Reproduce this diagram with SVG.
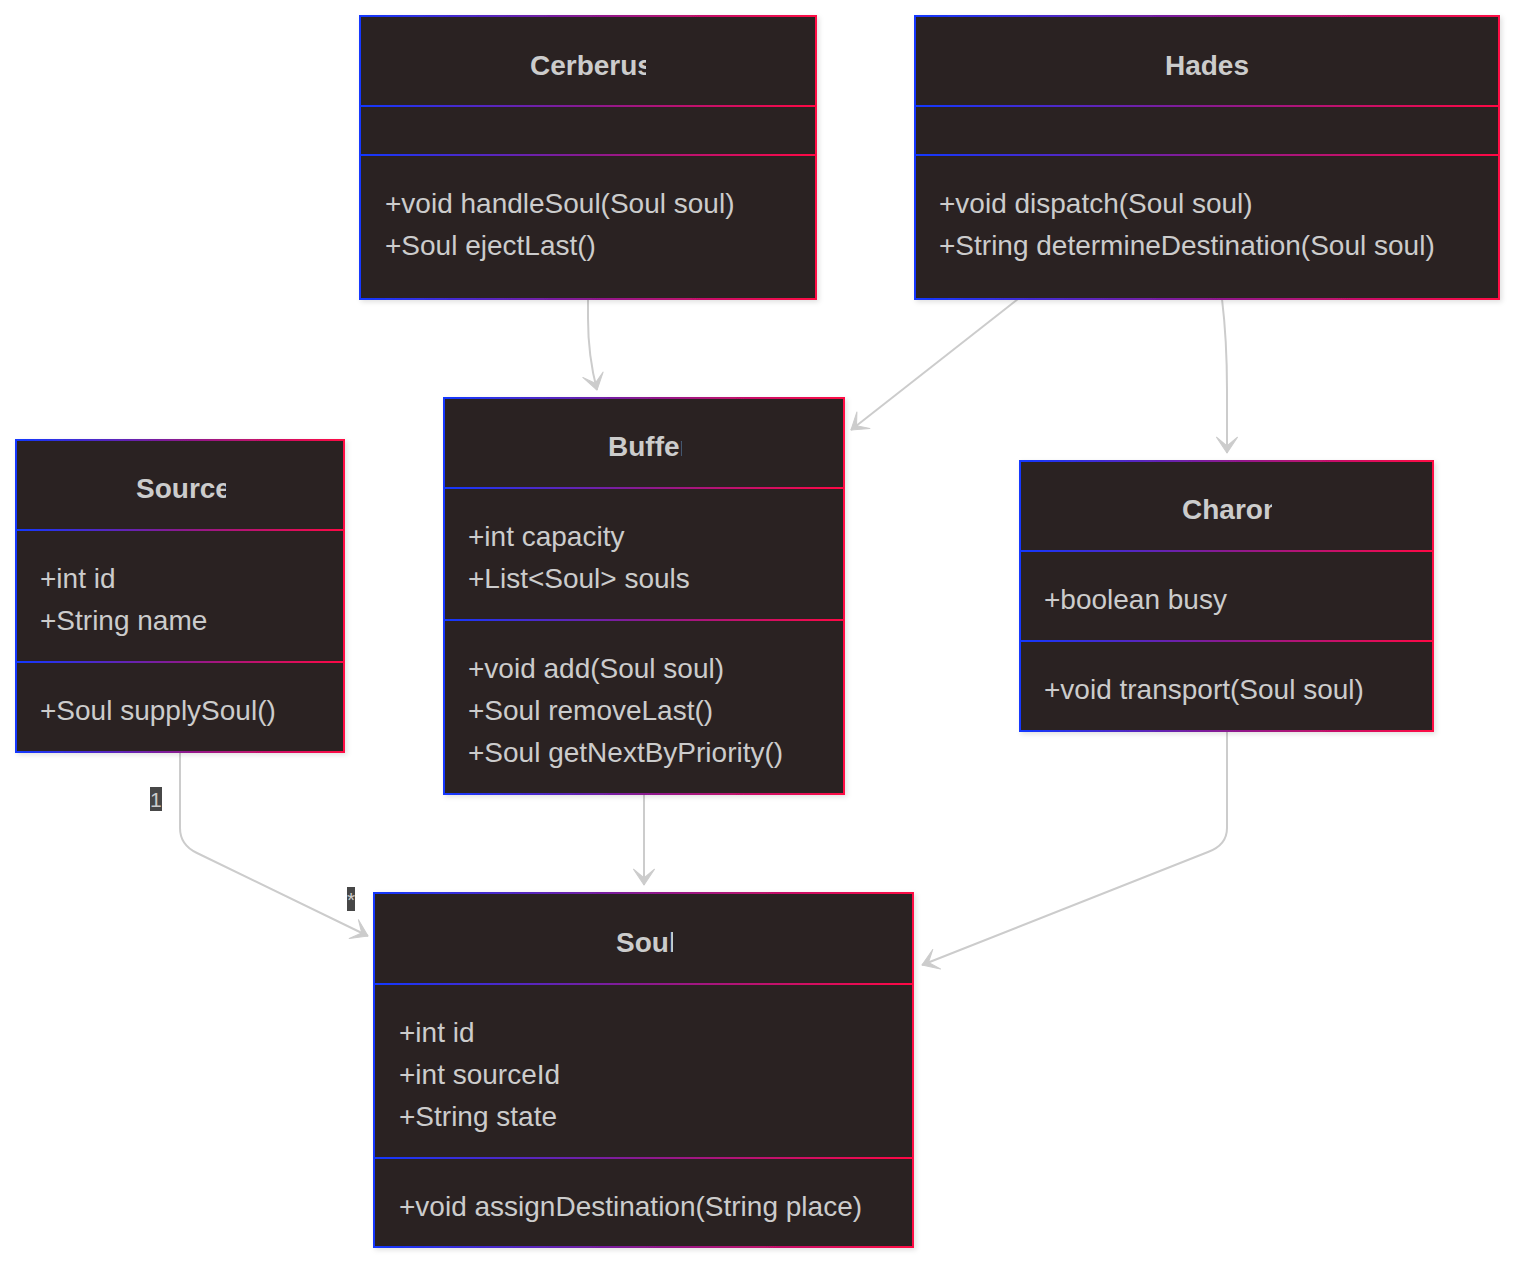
<svg xmlns="http://www.w3.org/2000/svg" width="1515" height="1264" viewBox="0 0 1515 1264">
<defs>
<linearGradient id="g" x1="0" y1="0" x2="1" y2="0">
<stop offset="0" stop-color="#1238ff"/>
<stop offset="0.5" stop-color="#8a1a90"/>
<stop offset="1" stop-color="#ff0844"/>
</linearGradient>
<filter id="sh" x="-5%" y="-5%" width="115%" height="115%">
<feDropShadow dx="2" dy="2" stdDeviation="2.5" flood-color="#000" flood-opacity="0.12"/>
</filter>
<marker id="arr" viewBox="0 0 20 14" refX="18" refY="7" markerUnits="userSpaceOnUse" markerWidth="35" markerHeight="24.5" orient="auto">
<path d="M18,7 L9,13 L14,7 L9,1 Z" fill="#cccccc" stroke="#cccccc" stroke-width="0.6" stroke-linejoin="round"/>
</marker>
<clipPath id="cCer"><rect x="530" y="30" width="116" height="60"/></clipPath>
<clipPath id="cBuf"><rect x="608" y="412" width="73.5" height="60"/></clipPath>
<clipPath id="cSrc"><rect x="136" y="454" width="90" height="60"/></clipPath>
<clipPath id="cCha"><rect x="1182" y="475" width="90" height="60"/></clipPath>
<clipPath id="cSoul"><rect x="616" y="908" width="57" height="60"/></clipPath>
</defs>
<style>
.box{fill:#2b2121;stroke:url(#g);stroke-width:2}
.div{fill:url(#g)}
.t{font-family:"Liberation Sans",Arial,sans-serif;font-size:28px;font-weight:bold;fill:#cccccc}
.m{font-family:"Liberation Sans",Arial,sans-serif;font-size:28px;fill:#cccccc}
.e{fill:none;stroke:#cccccc;stroke-width:2}
.lb{fill:#474747}
.lt{font-family:"Liberation Sans",Arial,sans-serif;font-size:21px;fill:#cccccc}
</style>
<rect width="1515" height="1264" fill="#ffffff"/>

<g id="edges">
<path class="e" d="M588,299 L588,318 Q588,356 597,390" marker-end="url(#arr)"/>
<path class="e" d="M1018,299 L851,430" marker-end="url(#arr)"/>
<path class="e" d="M1222,299 Q1227,340 1227,390 L1227,453" marker-end="url(#arr)"/>
<path class="e" d="M644,794 L644,885" marker-end="url(#arr)"/>
<path class="e" d="M180,752 L180,828 Q180,845 197,853 L368,936" marker-end="url(#arr)"/>
<path class="e" d="M1227,731 L1227,828 Q1227,845 1208,852 L922,965" marker-end="url(#arr)"/>
<rect class="lb" x="150" y="787" width="12" height="24"/>
<text class="lt" x="150" y="807">1</text>
<rect class="lb" x="347" y="887" width="8" height="24"/>
<text class="lt" x="347" y="907">*</text>
</g>

<g id="Cerberus">
<rect class="box" x="360" y="16" width="456" height="283" filter="url(#sh)"/>
<rect class="div" x="360" y="105" width="456" height="2"/>
<rect class="div" x="360" y="154" width="456" height="2"/>
<text class="t" x="530" y="75" clip-path="url(#cCer)">Cerberus</text>
<text class="m" x="385" y="213">+void handleSoul(Soul soul)</text>
<text class="m" x="385" y="255">+Soul ejectLast()</text>
</g>

<g id="Hades">
<rect class="box" x="915" y="16" width="584" height="283" filter="url(#sh)"/>
<rect class="div" x="915" y="105" width="584" height="2"/>
<rect class="div" x="915" y="154" width="584" height="2"/>
<text class="t" x="1207" y="75" text-anchor="middle">Hades</text>
<text class="m" x="939" y="213">+void dispatch(Soul soul)</text>
<text class="m" x="939" y="255">+String determineDestination(Soul soul)</text>
</g>

<g id="Buffer">
<rect class="box" x="444" y="398" width="400" height="396" filter="url(#sh)"/>
<rect class="div" x="444" y="487" width="400" height="2"/>
<rect class="div" x="444" y="619" width="400" height="2"/>
<text class="t" x="608" y="456" clip-path="url(#cBuf)">Buffer</text>
<text class="m" x="468" y="546">+int capacity</text>
<text class="m" x="468" y="588">+List&lt;Soul&gt; souls</text>
<text class="m" x="468" y="678">+void add(Soul soul)</text>
<text class="m" x="468" y="720">+Soul removeLast()</text>
<text class="m" x="468" y="762">+Soul getNextByPriority()</text>
</g>

<g id="Source">
<rect class="box" x="16" y="440" width="328" height="312" filter="url(#sh)"/>
<rect class="div" x="16" y="529" width="328" height="2"/>
<rect class="div" x="16" y="661" width="328" height="2"/>
<text class="t" x="136" y="498" clip-path="url(#cSrc)">Source</text>
<text class="m" x="40" y="588">+int id</text>
<text class="m" x="40" y="630">+String name</text>
<text class="m" x="40" y="720">+Soul supplySoul()</text>
</g>

<g id="Charon">
<rect class="box" x="1020" y="461" width="413" height="270" filter="url(#sh)"/>
<rect class="div" x="1020" y="550" width="413" height="2"/>
<rect class="div" x="1020" y="640" width="413" height="2"/>
<text class="t" x="1182" y="519" clip-path="url(#cCha)">Charon</text>
<text class="m" x="1044" y="609">+boolean busy</text>
<text class="m" x="1044" y="699">+void transport(Soul soul)</text>
</g>

<g id="Soul">
<rect class="box" x="374" y="893" width="539" height="354" filter="url(#sh)"/>
<rect class="div" x="374" y="983" width="539" height="2"/>
<rect class="div" x="374" y="1157" width="539" height="2"/>
<text class="t" x="616" y="952" clip-path="url(#cSoul)">Soul</text>
<text class="m" x="399" y="1042">+int id</text>
<text class="m" x="399" y="1084">+int sourceId</text>
<text class="m" x="399" y="1126">+String state</text>
<text class="m" x="399" y="1216">+void assignDestination(String place)</text>
</g>
</svg>
